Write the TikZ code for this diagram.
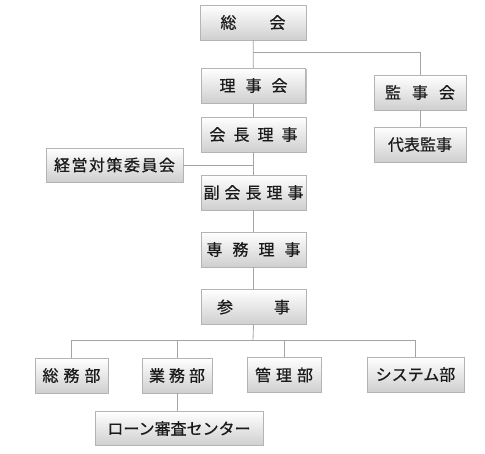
\documentclass[tikz,border=0pt]{standalone}
\usepackage{fontspec}
\newfontfamily\jpfont{Noto Sans CJK JP}[FakeBold=0.6]
\usetikzlibrary{shadows}
\definecolor{linegray}{HTML}{A4A4A4}
\definecolor{boxedge}{HTML}{B4B4B4}
\definecolor{boxlow}{HTML}{CFCFCF}
\definecolor{txt}{HTML}{1A1A1A}
\tikzset{
  orgbox/.style={rectangle,draw=boxedge,line width=0.8pt,top color=white,bottom color=boxlow,
    minimum height=35pt,inner sep=0pt,text=txt,font=\jpfont\fontsize{16}{18}\selectfont,
    drop shadow={shadow xshift=1pt,shadow yshift=-1pt,opacity=0.25,fill=black}},
  orgline/.style={draw=linegray,line width=0.8pt}
}
\begin{document}
\begin{tikzpicture}[x=1pt,y=-1pt,line cap=butt,line join=miter]
  \def\gap#1{\hspace{#1pt}}
  \useasboundingbox (0,0) rectangle (485,454);
  % top
  \node[orgbox,minimum width=106pt] (sokai) at (253,22.5) {総\gap{33}会};
  \node[orgbox,minimum width=104pt] (rijikai) at (253.5,85.5) {理\gap{10}事\gap{10}会};
  \node[orgbox,minimum width=92pt] (kanjikai) at (420,92.5) {監\gap{11}事\gap{11}会};
  \node[orgbox,minimum width=92pt] (daihyo) at (420,144.5) {代表監事};
  \node[orgbox,minimum width=105pt] (kaicho) at (253.5,134.5) {会\gap{8}長\gap{8}理\gap{8}事};
  \node[orgbox,minimum width=137pt,minimum height=34pt] (keiei) at (114.5,165) {経\gap{1.5}営\gap{1.5}対\gap{1.5}策\gap{1.5}委\gap{1.5}員\gap{1.5}会};
  \node[orgbox,minimum width=105pt] (fuku) at (253.5,192.5) {副\gap{5}会\gap{5}長\gap{5}理\gap{5}事};
  \node[orgbox,minimum width=105pt] (senmu) at (253.5,249.5) {専\gap{10}務\gap{10}理\gap{10}事};
  \node[orgbox,minimum width=105pt] (sanji) at (253.5,307) {参\gap{41}事};
  % departments
  \node[orgbox,minimum width=73pt] (somu) at (71.5,375.5) {総\gap{5}務\gap{5}部};
  \node[orgbox,minimum width=70pt] (gyomu) at (177,375.5) {業\gap{4}務\gap{4}部};
  \node[orgbox,minimum width=74pt] (kanri) at (284,375) {管\gap{5}理\gap{5}部};
  \node[orgbox,minimum width=97pt] (system) at (415.5,374.5) {システム部};
  \node[orgbox,minimum width=168pt,minimum height=34pt] (loan) at (179,428.5) {ローン審査センター};
  % connectors
  \coordinate (kanjij) at (253,52);
  \coordinate (bus) at (253,340);
  \draw[orgline] (sokai) -- (rijikai);
  \draw[orgline] (kanjij) -| (kanjikai.north);
  \draw[orgline] (kanjikai) -- (daihyo);
  \draw[orgline] (rijikai) -- (kaicho);
  \draw[orgline] (kaicho) -- (fuku);
  \draw[orgline] (keiei.east) -- (keiei.east -| kaicho.south);
  \draw[orgline] (fuku) -- (senmu);
  \draw[orgline] (senmu) -- (sanji);
  \draw[orgline] (sanji.south) -- (bus);
  \foreach \d in {somu,gyomu,kanri,system}
    \draw[orgline] (bus) -| (\d.north);
  \draw[orgline] (gyomu.south) -- (gyomu.south |- loan.north);
\end{tikzpicture}
\end{document}
